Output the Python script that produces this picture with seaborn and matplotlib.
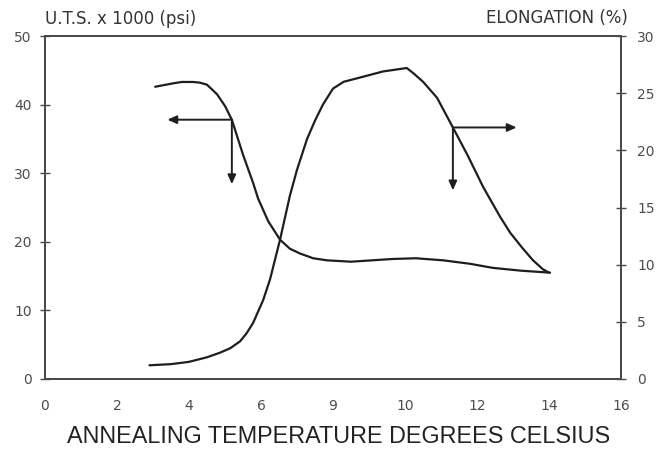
import matplotlib
matplotlib.use("Agg")
import matplotlib.pyplot as plt
import seaborn as sns
import pandas as pd

# --- data ---
uts_temp = [3.06, 3.56, 3.8, 4.11, 4.3, 4.5, 4.78, 5.0, 5.19, 5.5, 5.78, 5.92, 6.2,
            6.53, 6.8, 7.08, 7.45, 7.83, 8.5, 9.67, 10.3, 11.06, 11.8, 12.44, 13.2, 14.03]
uts = [42.6, 43.1, 43.3, 43.3, 43.2, 42.9, 41.5, 39.8, 37.8, 32.7, 28.6, 26.3, 23.0,
       20.3, 19.0, 18.3, 17.6, 17.3, 17.1, 17.5, 17.6, 17.3, 16.8, 16.2, 15.8, 15.5]

el_temp = [2.9, 3.5, 4.0, 4.5, 4.86, 5.15, 5.42, 5.6, 5.78, 6.06, 6.25, 6.53, 6.8,
           7.0, 7.28, 7.5, 7.72, 8.0, 8.3, 8.67, 9.39, 10.05, 10.25, 10.5, 10.89,
           11.33, 11.75, 12.17, 12.64, 12.92, 13.25, 13.55, 13.83, 14.0]
elong = [1.2, 1.3, 1.5, 1.9, 2.3, 2.7, 3.3, 4.0, 4.9, 6.9, 8.7, 12.2, 16.0,
         18.3, 21.0, 22.6, 24.0, 25.4, 26.0, 26.3, 26.9, 27.2, 26.7, 26.0, 24.6,
         22.0, 19.5, 16.8, 14.2, 12.8, 11.5, 10.4, 9.6, 9.3]

x_ticks = [0, 2, 4, 6, 8, 10, 12, 14, 16]
x_ticklabels = ["0", "2", "4", "6", "9", "10", "12", "14", "16"]
uts_ticks = [0, 10, 20, 30, 40, 50]
el_ticks = [0, 5, 10, 15, 20, 25, 30]

# arrows: (start x, start y, end x, end y)
uts_arrow_h = (5.19, 37.8, 3.4, 37.8)
uts_arrow_v = (5.19, 37.8, 5.19, 28.4)
el_arrow_h = (11.33, 22.0, 13.1, 22.0)
el_arrow_v = (11.33, 22.0, 11.33, 16.5)

uts_df = pd.DataFrame({"temp": uts_temp, "uts": uts})
el_df = pd.DataFrame({"temp": el_temp, "elong": elong})

sns.set_theme(style="white")
plt.rcParams["font.family"] = ["Liberation Sans", "DejaVu Sans"]

fig = plt.figure(figsize=(6.59, 4.49), dpi=100)
ax = fig.add_axes([45 / 659, 1 - 379 / 449, (621 - 45) / 659, (379 - 36) / 449])
ax2 = ax.twinx()

line_c = "#1e1e1e"
axis_c = "#4a4a4a"
sns.lineplot(data=uts_df, x="temp", y="uts", ax=ax, color=line_c, lw=1.6,
             sort=False, estimator=None)
sns.lineplot(data=el_df, x="temp", y="elong", ax=ax2, color=line_c, lw=1.6,
             sort=False, estimator=None)

ax.set_xlim(0, 16)
ax.set_ylim(0, 50)
ax2.set_ylim(0, 30)
ax.set_xticks(x_ticks)
ax.set_xticklabels(x_ticklabels)
ax.set_yticks(uts_ticks)
ax2.set_yticks(el_ticks)

for a in (ax, ax2):
    for s in a.spines.values():
        s.set_visible(True)
        s.set_color(axis_c)
        s.set_linewidth(1.3)
    a.tick_params(direction="inout", length=7, width=1.0, color=axis_c,
                  labelsize=10, labelcolor="#4d4d4d")
    a.set_ylabel("")
    for lab in a.get_xticklabels() + a.get_yticklabels():
        lab.set_family("DejaVu Sans")
ax.tick_params(axis="x", pad=11)
ax.tick_params(axis="y", pad=6)
ax2.tick_params(axis="y", pad=8)

ax.set_xlabel("ANNEALING TEMPERATURE DEGREES CELSIUS", fontsize=16.8,
              color="#222222", labelpad=10)
ax.xaxis.set_label_coords(0.51, -0.135)
ax.xaxis.label.set_va("top")

arrow_kw = dict(arrowstyle="-|>,head_length=0.45,head_width=0.2", color=line_c,
                lw=1.4, shrinkA=0, shrinkB=0)
for a, arr in ((ax, uts_arrow_h), (ax, uts_arrow_v), (ax2, el_arrow_h), (ax2, el_arrow_v)):
    a.annotate("", xy=(arr[2], arr[3]), xytext=(arr[0], arr[1]), arrowprops=arrow_kw)

fig.text(45 / 659, 1 - 19 / 449, "U.T.S. x 1000 (psi)", fontsize=12, color="#333333",
         ha="left", va="center", family="DejaVu Sans")
fig.text(628 / 659, 1 - 18 / 449, "ELONGATION (%)", fontsize=12, color="#333333",
         ha="right", va="center", family="DejaVu Sans")

fig.savefig("out.png", dpi=100, facecolor="white")
